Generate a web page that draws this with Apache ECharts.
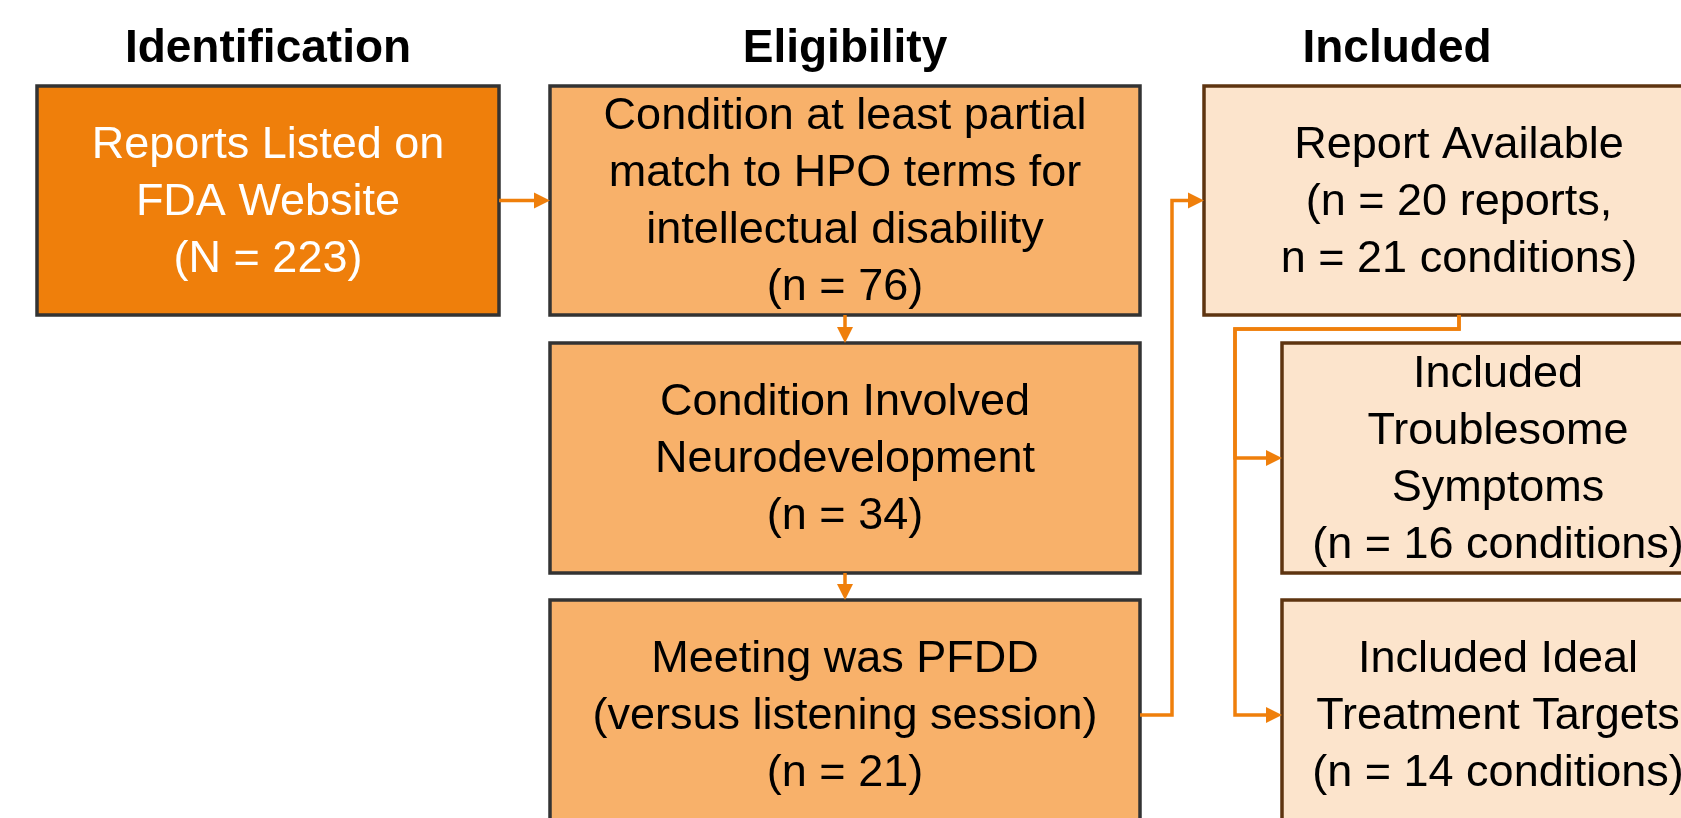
<!DOCTYPE html>
<html>
<head>
<meta charset="utf-8">
<script src="https://cdn.jsdelivr.net/npm/echarts@6/dist/echarts.min.js"></script>
<style>
html,body{margin:0;padding:0;background:#fff;}
#chart{width:1681px;height:818px;}
</style>
</head>
<body>
<div id="chart"></div>
<script>
// ---------- data ----------
const stageTitles = ['Identification', 'Eligibility', 'Included'];
const nodeNames = [
  'Reports Listed on\nFDA Website',
  'Condition at least partial\nmatch to HPO terms for\nintellectual disability',
  'Condition Involved\nNeurodevelopment',
  'Meeting was PFDD\n(versus listening session)',
  'Report Available',
  'Included\nTroublesome\nSymptoms',
  'Included Ideal\nTreatment Targets'
];
const nodeCounts = ['(N = 223)', '(n = 76)', '(n = 34)', '(n = 21)',
  '(n = 20 reports,\nn = 21 conditions)', '(n = 16 conditions)', '(n = 14 conditions)'];
const nodeStage = [0, 1, 1, 1, 2, 2, 2];
const edges = [[0, 1], [1, 2], [2, 3], [3, 4], [4, 5], [4, 6]];

// ---------- layout (layout units = pixels of the 1681x818 canvas) ----------
const W = 1681, H = 818;
const nodeBoxes = [ // [x0, y0, x1, y1]
  [37, 86, 499, 315],
  [550, 86, 1140, 315],
  [550, 343, 1140, 573],
  [550, 600, 1140, 830],
  [1204, 86, 1714, 315],
  [1282, 343, 1714, 573],
  [1282, 600, 1714, 830]
];
const titlePos = [[268, 49], [845, 49], [1397, 49]];
const stageStyle = [
  {fill: '#EF7F0B', stroke: '#333333', text: '#FFFFFF'},
  {fill: '#F8B16A', stroke: '#333333', text: '#000000'},
  {fill: '#FCE4CC', stroke: '#5E3410', text: '#000000'}
];
const LINE = '#EF7F0B';
const busX3 = 1172;   // vertical bus from node 3 up to node 4
const busX4 = 1235;   // vertical bus from node 4 down to nodes 5 and 6
const busY4 = 329;

function mid(b) { return [(b[0] + b[2]) / 2, (b[1] + b[3]) / 2]; }
function route(e) {
  const src = e[0], dst = e[1];
  const a = nodeBoxes[src], b = nodeBoxes[dst];
  if (src === 0) {
    const y = mid(a)[1];
    return [[a[2], y], [b[0], y]];
  }
  if (src === 1 || src === 2) {
    const x = mid(a)[0];
    return [[x, a[3]], [x, b[1]]];
  }
  if (src === 3) {
    const ya = mid(a)[1], yb = mid(b)[1];
    return [[a[2], ya], [busX3, ya], [busX3, yb], [b[0], yb]];
  }
  const xa = mid(a)[0], yb = mid(b)[1];
  return [[xa, a[3]], [xa, busY4], [busX4, busY4], [busX4, yb], [b[0], yb]];
}

const chart = echarts.init(document.getElementById('chart'), null, {renderer: 'canvas'});
const FONT = '"Liberation Sans", Arial, sans-serif';

const option = {
  animation: false,
  backgroundColor: '#ffffff',
  grid: {left: 0, right: 0, top: 0, bottom: 0},
  xAxis: {type: 'value', min: 0, max: W, show: false},
  yAxis: {type: 'value', min: 0, max: H, inverse: true, show: false},
  series: [
    {
      type: 'custom',
      name: 'boxes',
      clip: false,
      z: 2,
      data: nodeNames.map((n, i) => [i]),
      renderItem: function (params, api) {
        const i = api.value(0);
        const b = nodeBoxes[i];
        const st = stageStyle[nodeStage[i]];
        const p0 = api.coord([b[0], b[1]]);
        const p1 = api.coord([b[2], b[3]]);
        const c = [(p0[0] + p1[0]) / 2, (p0[1] + p1[1]) / 2];
        return {
          type: 'group',
          children: [
            {type: 'rect', shape: {x: p0[0], y: p0[1], width: p1[0] - p0[0], height: p1[1] - p0[1]},
              style: {fill: st.fill, stroke: st.stroke, lineWidth: 3.5}},
            {type: 'text', style: {
              text: nodeNames[i] + '\n' + nodeCounts[i], x: c[0], y: c[1] + 2,
              align: 'center', verticalAlign: 'middle',
              fontSize: 45, fontFamily: FONT, lineHeight: 57, fill: st.text}}
          ]
        };
      }
    },
    {
      type: 'custom',
      name: 'connectors',
      clip: false,
      z: 3,
      data: edges.map((e, i) => [i]),
      renderItem: function (params, api) {
        const e = edges[api.value(0)];
        const pts = route(e).map(p => api.coord(p));
        const n = pts.length;
        const tip = pts[n - 1], prev = pts[n - 2];
        const dx = Math.sign(tip[0] - prev[0]), dy = Math.sign(tip[1] - prev[1]);
        const L = 16, Wd = 8;
        const base = [tip[0] - dx * L, tip[1] - dy * L];
        const head = [tip, [base[0] - dy * Wd, base[1] + dx * Wd], [base[0] + dy * Wd, base[1] - dx * Wd]];
        const linePts = pts.slice(0, n - 1).concat([base]);
        return {
          type: 'group',
          children: [
            {type: 'polyline', shape: {points: linePts}, style: {stroke: LINE, lineWidth: 3.5, fill: null}},
            {type: 'polygon', shape: {points: head}, style: {fill: LINE}}
          ]
        };
      }
    },
    {
      type: 'custom',
      name: 'titles',
      clip: false,
      z: 4,
      data: stageTitles.map((t, i) => [i]),
      renderItem: function (params, api) {
        const i = api.value(0);
        const p = api.coord(titlePos[i]);
        return {type: 'text', style: {
          text: stageTitles[i], x: p[0], y: p[1], align: 'center', verticalAlign: 'middle',
          fontSize: 46, fontWeight: 'bold', fontFamily: FONT, fill: '#000000'}};
      }
    }
  ]
};
chart.setOption(option);
</script>
</body>
</html>
